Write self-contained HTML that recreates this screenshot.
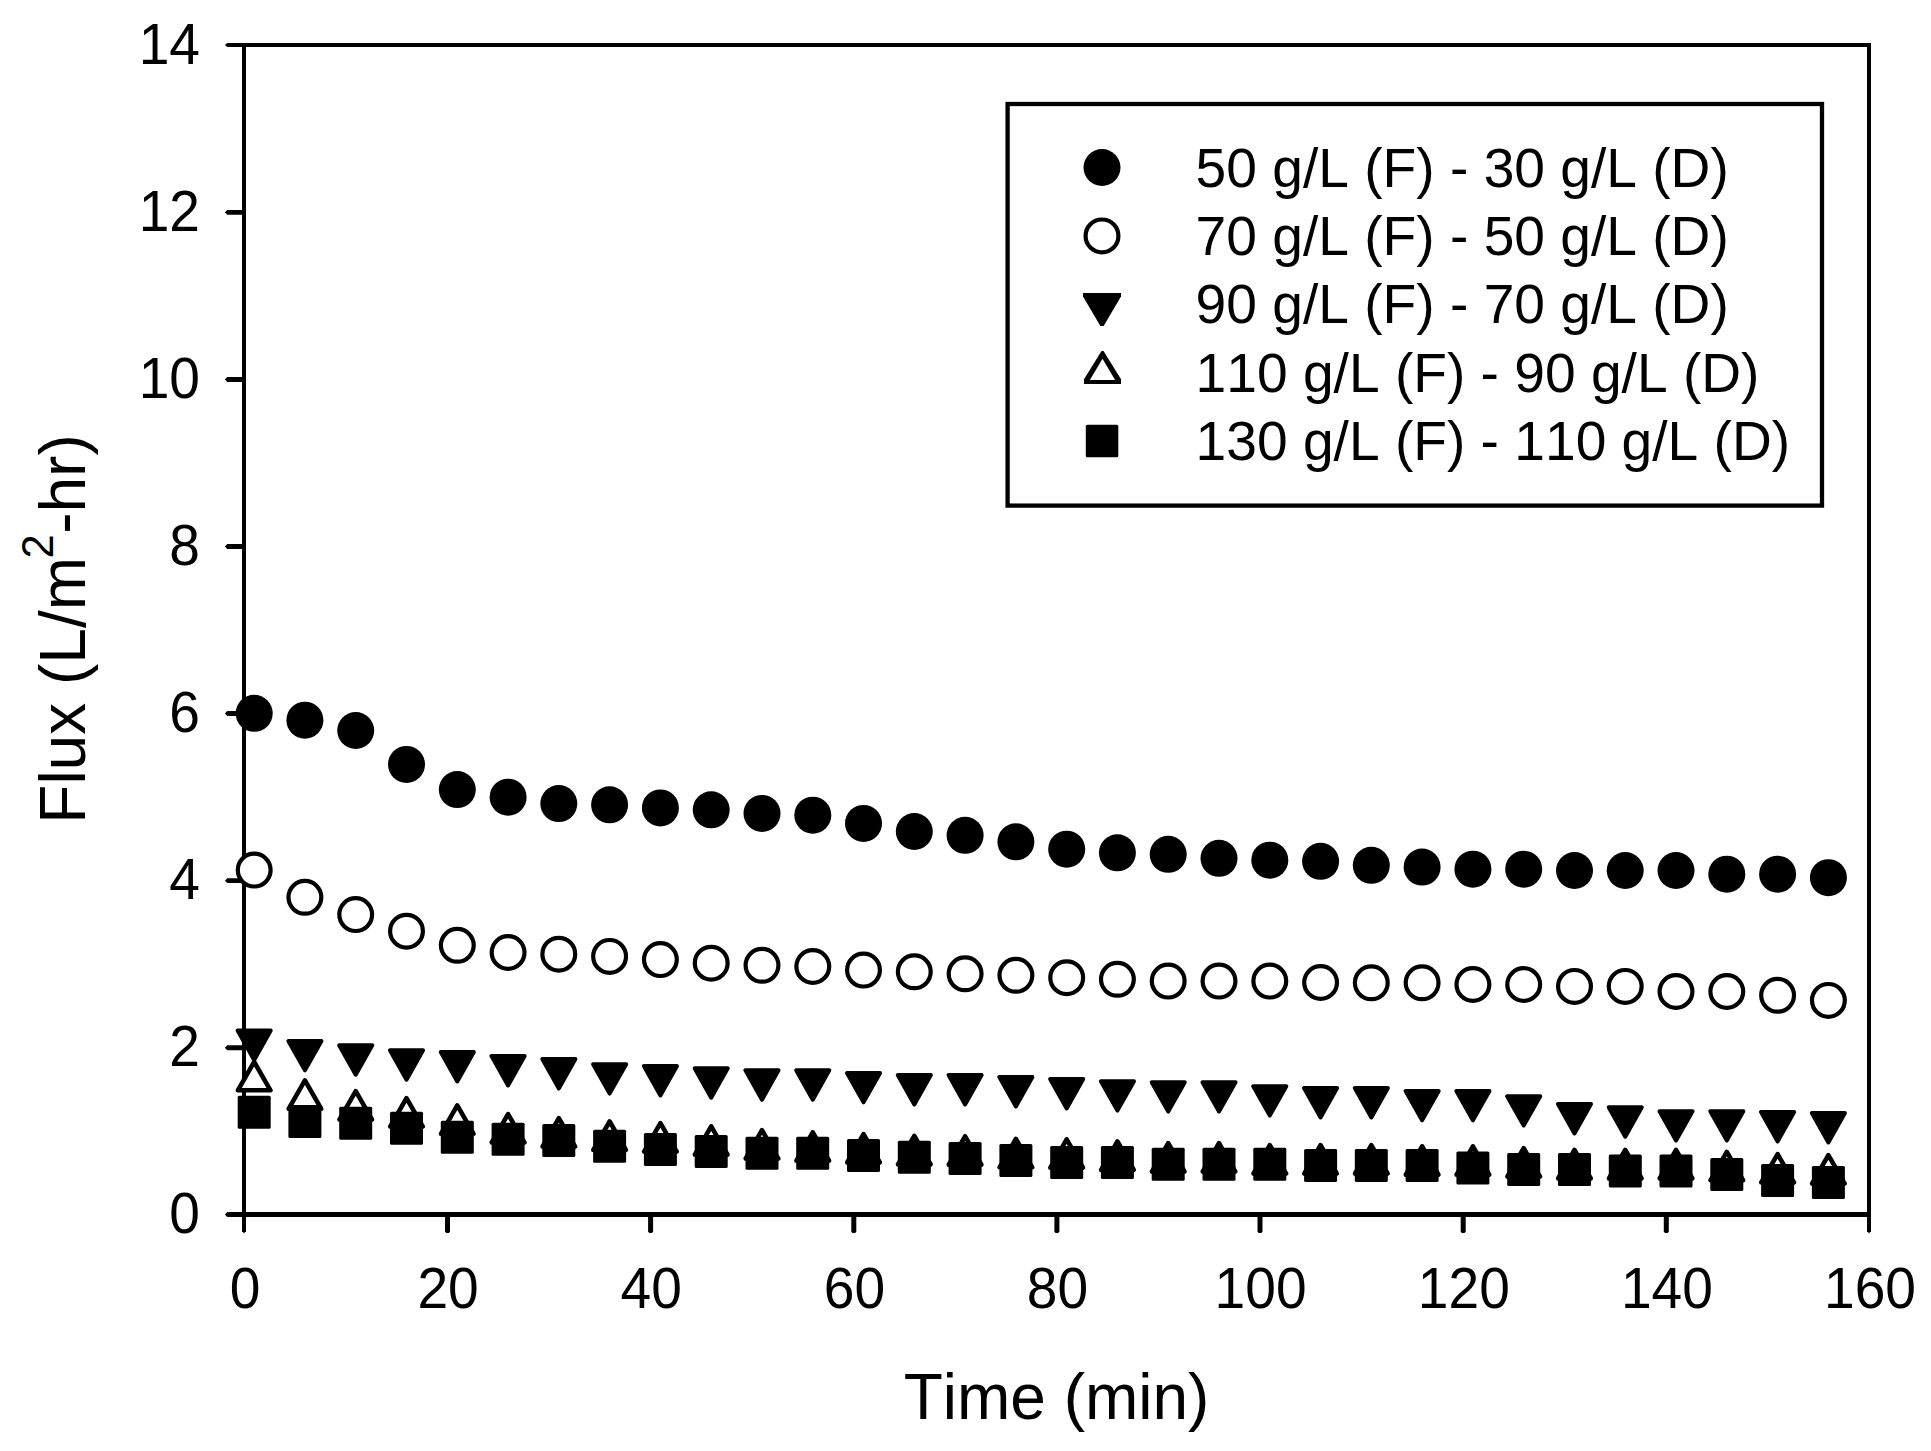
<!DOCTYPE html>
<html lang="en">
<head>
<meta charset="utf-8">
<title>Flux vs Time</title>
<style>
html,body{margin:0;padding:0;background:#fff;}
body{width:1931px;height:1451px;overflow:hidden;}
svg{display:block;}
text{font-family:"Liberation Sans",Arial,Helvetica,sans-serif;fill:#000;font-kerning:none;}
.t{font-size:55.15px;}
.ax{font-size:64.0px;}
.sup{font-size:43.5px;}
</style>
</head>
<body>
<svg width="1931" height="1451" viewBox="0 0 1931 1451">
<rect x="0" y="0" width="1931" height="1451" fill="#fff"/>

<g fill="#000" stroke="none">
<rect x="242" y="43" width="1629" height="4"/>
<rect x="242" y="1212" width="1629" height="5"/>
<rect x="242" y="43" width="4" height="1189"/>
<rect x="1867" y="43" width="4" height="1189"/>
<path d="M243.2 1232h1.6l-0.3 1.2h-1z M1868.2 1232h1.6l-0.3 1.2h-1z"/>
<path d="M244 43.0H227.3L224.9 45.0L227.3 47.0H244Z"/>
<path d="M244 1212.0H227.3L224.9 1214.5L227.3 1217.0H244Z"/>
<path d="M244 1045.3H227.3L224.9 1047.7L227.3 1050.2H244Z"/>
<path d="M244 878.2H227.3L224.9 880.7L227.3 883.1H244Z"/>
<path d="M244 711.1H227.3L224.9 713.6L227.3 716.0H244Z"/>
<path d="M244 544.1H227.3L224.9 546.5L227.3 549.0H244Z"/>
<path d="M244 377.0H227.3L224.9 379.4L227.3 381.9H244Z"/>
<path d="M244 209.9H227.3L224.9 212.4L227.3 214.8H244Z"/>
<path d="M445.0 1214H450.0V1231.8L448.8 1233.1H446.2L445.0 1231.8Z"/>
<path d="M648.1 1214H653.1V1231.8L651.9 1233.1H649.4L648.1 1231.8Z"/>
<path d="M851.3 1214H856.3V1231.8L855.1 1233.1H852.5L851.3 1231.8Z"/>
<path d="M1054.4 1214H1059.4V1231.8L1058.2 1233.1H1055.6L1054.4 1231.8Z"/>
<path d="M1257.5 1214H1262.5V1231.8L1261.3 1233.1H1258.7L1257.5 1231.8Z"/>
<path d="M1460.7 1214H1465.7V1231.8L1464.5 1233.1H1461.9L1460.7 1231.8Z"/>
<path d="M1663.8 1214H1668.8V1231.8L1667.6 1233.1H1665.0L1663.8 1231.8Z"/>
</g>
<g class="t">
<text class="t" transform="translate(200 1233.1) scale(1 1.025)" text-anchor="end">0</text>
<text class="t" transform="translate(200 1066.0) scale(1 1.025)" text-anchor="end">2</text>
<text class="t" transform="translate(200 899.0) scale(1 1.025)" text-anchor="end">4</text>
<text class="t" transform="translate(200 731.9) scale(1 1.025)" text-anchor="end">6</text>
<text class="t" transform="translate(200 564.8) scale(1 1.025)" text-anchor="end">8</text>
<text class="t" transform="translate(200 397.7) scale(1 1.025)" text-anchor="end">10</text>
<text class="t" transform="translate(200 230.7) scale(1 1.025)" text-anchor="end">12</text>
<text class="t" transform="translate(200 63.6) scale(1 1.025)" text-anchor="end">14</text>
<text class="t" transform="translate(245.0 1307.7) scale(1 1.025)" text-anchor="middle">0</text>
<text class="t" transform="translate(448.1 1307.7) scale(1 1.025)" text-anchor="middle">20</text>
<text class="t" transform="translate(651.2 1307.7) scale(1 1.025)" text-anchor="middle">40</text>
<text class="t" transform="translate(854.4 1307.7) scale(1 1.025)" text-anchor="middle">60</text>
<text class="t" transform="translate(1057.5 1307.7) scale(1 1.025)" text-anchor="middle">80</text>
<text class="t" transform="translate(1260.6 1307.7) scale(1 1.025)" text-anchor="middle">100</text>
<text class="t" transform="translate(1463.8 1307.7) scale(1 1.025)" text-anchor="middle">120</text>
<text class="t" transform="translate(1666.9 1307.7) scale(1 1.025)" text-anchor="middle">140</text>
<text class="t" transform="translate(1870.0 1307.7) scale(1 1.025)" text-anchor="middle">160</text>
</g>
<text class="ax" x="1056.5" y="1418.7" text-anchor="middle">Time (min)</text>
<text class="ax" transform="translate(85.1 629.0) rotate(-90)" text-anchor="middle">Flux (L/m<tspan class="sup" dy="-31.9" dx="-1.5">2</tspan><tspan dy="31.9" dx="0.5">-hr)</tspan></text>
<g id="s1">
<circle cx="254.2" cy="713.3" r="18.5" fill="#000"/>
<circle cx="304.9" cy="720.2" r="18.5" fill="#000"/>
<circle cx="355.7" cy="730.5" r="18.5" fill="#000"/>
<circle cx="406.5" cy="764.4" r="18.5" fill="#000"/>
<circle cx="457.3" cy="789.6" r="18.5" fill="#000"/>
<circle cx="508.1" cy="797.2" r="18.5" fill="#000"/>
<circle cx="558.8" cy="803.6" r="18.5" fill="#000"/>
<circle cx="609.6" cy="804.8" r="18.5" fill="#000"/>
<circle cx="660.4" cy="807.9" r="18.5" fill="#000"/>
<circle cx="711.2" cy="809.8" r="18.5" fill="#000"/>
<circle cx="762.0" cy="813.4" r="18.5" fill="#000"/>
<circle cx="812.8" cy="815.2" r="18.5" fill="#000"/>
<circle cx="863.5" cy="823.4" r="18.5" fill="#000"/>
<circle cx="914.3" cy="831.5" r="18.5" fill="#000"/>
<circle cx="965.1" cy="835.3" r="18.5" fill="#000"/>
<circle cx="1015.9" cy="841.8" r="18.5" fill="#000"/>
<circle cx="1066.7" cy="849.2" r="18.5" fill="#000"/>
<circle cx="1117.4" cy="852.8" r="18.5" fill="#000"/>
<circle cx="1168.2" cy="854.3" r="18.5" fill="#000"/>
<circle cx="1219.0" cy="858.3" r="18.5" fill="#000"/>
<circle cx="1269.8" cy="860.2" r="18.5" fill="#000"/>
<circle cx="1320.6" cy="861.3" r="18.5" fill="#000"/>
<circle cx="1371.3" cy="865.3" r="18.5" fill="#000"/>
<circle cx="1422.1" cy="867.1" r="18.5" fill="#000"/>
<circle cx="1472.9" cy="869.2" r="18.5" fill="#000"/>
<circle cx="1523.7" cy="869.2" r="18.5" fill="#000"/>
<circle cx="1574.5" cy="870.5" r="18.5" fill="#000"/>
<circle cx="1625.2" cy="870.5" r="18.5" fill="#000"/>
<circle cx="1676.0" cy="870.5" r="18.5" fill="#000"/>
<circle cx="1726.8" cy="874.2" r="18.5" fill="#000"/>
<circle cx="1777.6" cy="874.2" r="18.5" fill="#000"/>
<circle cx="1828.4" cy="877.7" r="18.5" fill="#000"/>
</g>
<g id="s2">
<circle cx="254.2" cy="870.1" r="16.40" fill="#fff" stroke="#000" stroke-width="4.2"/>
<circle cx="304.9" cy="897.3" r="16.40" fill="#fff" stroke="#000" stroke-width="4.2"/>
<circle cx="355.7" cy="914.6" r="16.40" fill="#fff" stroke="#000" stroke-width="4.2"/>
<circle cx="406.5" cy="931.2" r="16.40" fill="#fff" stroke="#000" stroke-width="4.2"/>
<circle cx="457.3" cy="945.3" r="16.40" fill="#fff" stroke="#000" stroke-width="4.2"/>
<circle cx="508.1" cy="952.5" r="16.40" fill="#fff" stroke="#000" stroke-width="4.2"/>
<circle cx="558.8" cy="954.2" r="16.40" fill="#fff" stroke="#000" stroke-width="4.2"/>
<circle cx="609.6" cy="956.4" r="16.40" fill="#fff" stroke="#000" stroke-width="4.2"/>
<circle cx="660.4" cy="959.6" r="16.40" fill="#fff" stroke="#000" stroke-width="4.2"/>
<circle cx="711.2" cy="963.2" r="16.40" fill="#fff" stroke="#000" stroke-width="4.2"/>
<circle cx="762.0" cy="965.3" r="16.40" fill="#fff" stroke="#000" stroke-width="4.2"/>
<circle cx="812.8" cy="966.5" r="16.40" fill="#fff" stroke="#000" stroke-width="4.2"/>
<circle cx="863.5" cy="970.1" r="16.40" fill="#fff" stroke="#000" stroke-width="4.2"/>
<circle cx="914.3" cy="971.8" r="16.40" fill="#fff" stroke="#000" stroke-width="4.2"/>
<circle cx="965.1" cy="973.8" r="16.40" fill="#fff" stroke="#000" stroke-width="4.2"/>
<circle cx="1015.9" cy="975.3" r="16.40" fill="#fff" stroke="#000" stroke-width="4.2"/>
<circle cx="1066.7" cy="977.7" r="16.40" fill="#fff" stroke="#000" stroke-width="4.2"/>
<circle cx="1117.4" cy="979.3" r="16.40" fill="#fff" stroke="#000" stroke-width="4.2"/>
<circle cx="1168.2" cy="981.1" r="16.40" fill="#fff" stroke="#000" stroke-width="4.2"/>
<circle cx="1219.0" cy="981.1" r="16.40" fill="#fff" stroke="#000" stroke-width="4.2"/>
<circle cx="1269.8" cy="981.1" r="16.40" fill="#fff" stroke="#000" stroke-width="4.2"/>
<circle cx="1320.6" cy="982.5" r="16.40" fill="#fff" stroke="#000" stroke-width="4.2"/>
<circle cx="1371.3" cy="982.8" r="16.40" fill="#fff" stroke="#000" stroke-width="4.2"/>
<circle cx="1422.1" cy="982.8" r="16.40" fill="#fff" stroke="#000" stroke-width="4.2"/>
<circle cx="1472.9" cy="984.5" r="16.40" fill="#fff" stroke="#000" stroke-width="4.2"/>
<circle cx="1523.7" cy="984.5" r="16.40" fill="#fff" stroke="#000" stroke-width="4.2"/>
<circle cx="1574.5" cy="986.4" r="16.40" fill="#fff" stroke="#000" stroke-width="4.2"/>
<circle cx="1625.2" cy="986.4" r="16.40" fill="#fff" stroke="#000" stroke-width="4.2"/>
<circle cx="1676.0" cy="991.5" r="16.40" fill="#fff" stroke="#000" stroke-width="4.2"/>
<circle cx="1726.8" cy="991.5" r="16.40" fill="#fff" stroke="#000" stroke-width="4.2"/>
<circle cx="1777.6" cy="995.3" r="16.40" fill="#fff" stroke="#000" stroke-width="4.2"/>
<circle cx="1828.4" cy="1000.4" r="16.40" fill="#fff" stroke="#000" stroke-width="4.2"/>
</g>
<g id="s3">
<path d="M237.61 1030.5H270.71L254.16 1059.9Z" fill="#000" stroke="#000" stroke-width="4" stroke-linejoin="round"/>
<path d="M288.39 1040.9H321.49L304.94 1070.3Z" fill="#000" stroke="#000" stroke-width="4" stroke-linejoin="round"/>
<path d="M339.17 1045.3H372.27L355.72 1074.7Z" fill="#000" stroke="#000" stroke-width="4" stroke-linejoin="round"/>
<path d="M389.95 1050.3H423.05L406.50 1079.7Z" fill="#000" stroke="#000" stroke-width="4" stroke-linejoin="round"/>
<path d="M440.73 1052.0H473.83L457.28 1081.4Z" fill="#000" stroke="#000" stroke-width="4" stroke-linejoin="round"/>
<path d="M491.51 1056.1H524.61L508.06 1085.5Z" fill="#000" stroke="#000" stroke-width="4" stroke-linejoin="round"/>
<path d="M542.29 1059.0H575.39L558.84 1088.4Z" fill="#000" stroke="#000" stroke-width="4" stroke-linejoin="round"/>
<path d="M593.08 1064.2H626.17L609.62 1093.6Z" fill="#000" stroke="#000" stroke-width="4" stroke-linejoin="round"/>
<path d="M643.86 1066.1H676.96L660.41 1095.5Z" fill="#000" stroke="#000" stroke-width="4" stroke-linejoin="round"/>
<path d="M694.64 1068.3H727.74L711.19 1097.7Z" fill="#000" stroke="#000" stroke-width="4" stroke-linejoin="round"/>
<path d="M745.42 1070.3H778.52L761.97 1099.7Z" fill="#000" stroke="#000" stroke-width="4" stroke-linejoin="round"/>
<path d="M796.20 1070.3H829.30L812.75 1099.7Z" fill="#000" stroke="#000" stroke-width="4" stroke-linejoin="round"/>
<path d="M846.98 1072.9H880.08L863.53 1102.3Z" fill="#000" stroke="#000" stroke-width="4" stroke-linejoin="round"/>
<path d="M897.76 1075.1H930.86L914.31 1104.5Z" fill="#000" stroke="#000" stroke-width="4" stroke-linejoin="round"/>
<path d="M948.54 1075.1H981.64L965.09 1104.5Z" fill="#000" stroke="#000" stroke-width="4" stroke-linejoin="round"/>
<path d="M999.33 1077.0H1032.42L1015.88 1106.4Z" fill="#000" stroke="#000" stroke-width="4" stroke-linejoin="round"/>
<path d="M1050.11 1079.0H1083.21L1066.66 1108.4Z" fill="#000" stroke="#000" stroke-width="4" stroke-linejoin="round"/>
<path d="M1100.89 1081.2H1133.99L1117.44 1110.6Z" fill="#000" stroke="#000" stroke-width="4" stroke-linejoin="round"/>
<path d="M1151.67 1082.2H1184.77L1168.22 1111.6Z" fill="#000" stroke="#000" stroke-width="4" stroke-linejoin="round"/>
<path d="M1202.45 1082.2H1235.55L1219.00 1111.6Z" fill="#000" stroke="#000" stroke-width="4" stroke-linejoin="round"/>
<path d="M1253.23 1086.2H1286.33L1269.78 1115.6Z" fill="#000" stroke="#000" stroke-width="4" stroke-linejoin="round"/>
<path d="M1304.01 1088.1H1337.11L1320.56 1117.5Z" fill="#000" stroke="#000" stroke-width="4" stroke-linejoin="round"/>
<path d="M1354.79 1088.1H1387.89L1371.34 1117.5Z" fill="#000" stroke="#000" stroke-width="4" stroke-linejoin="round"/>
<path d="M1405.58 1090.9H1438.67L1422.12 1120.3Z" fill="#000" stroke="#000" stroke-width="4" stroke-linejoin="round"/>
<path d="M1456.36 1090.9H1489.46L1472.91 1120.3Z" fill="#000" stroke="#000" stroke-width="4" stroke-linejoin="round"/>
<path d="M1507.14 1096.2H1540.24L1523.69 1125.6Z" fill="#000" stroke="#000" stroke-width="4" stroke-linejoin="round"/>
<path d="M1557.92 1104.0H1591.02L1574.47 1133.4Z" fill="#000" stroke="#000" stroke-width="4" stroke-linejoin="round"/>
<path d="M1608.70 1107.3H1641.80L1625.25 1136.7Z" fill="#000" stroke="#000" stroke-width="4" stroke-linejoin="round"/>
<path d="M1659.48 1111.2H1692.58L1676.03 1140.6Z" fill="#000" stroke="#000" stroke-width="4" stroke-linejoin="round"/>
<path d="M1710.26 1111.2H1743.36L1726.81 1140.6Z" fill="#000" stroke="#000" stroke-width="4" stroke-linejoin="round"/>
<path d="M1761.04 1112.0H1794.14L1777.59 1141.4Z" fill="#000" stroke="#000" stroke-width="4" stroke-linejoin="round"/>
<path d="M1811.83 1113.1H1844.92L1828.38 1142.5Z" fill="#000" stroke="#000" stroke-width="4" stroke-linejoin="round"/>
</g>
<g id="s4">
<path d="M254.16 1061.9L270.46 1090.3H237.86Z" fill="#fff" stroke="#000" stroke-width="4.6" stroke-linejoin="round"/>
<path d="M304.94 1080.4L321.24 1108.8H288.64Z" fill="#fff" stroke="#000" stroke-width="4.6" stroke-linejoin="round"/>
<path d="M355.72 1091.2L372.02 1119.6H339.42Z" fill="#fff" stroke="#000" stroke-width="4.6" stroke-linejoin="round"/>
<path d="M406.50 1098.2L422.80 1126.6H390.20Z" fill="#fff" stroke="#000" stroke-width="4.6" stroke-linejoin="round"/>
<path d="M457.28 1105.4L473.58 1133.8H440.98Z" fill="#fff" stroke="#000" stroke-width="4.6" stroke-linejoin="round"/>
<path d="M508.06 1114.1L524.36 1142.5H491.76Z" fill="#fff" stroke="#000" stroke-width="4.6" stroke-linejoin="round"/>
<path d="M558.84 1118.2L575.14 1146.6H542.54Z" fill="#fff" stroke="#000" stroke-width="4.6" stroke-linejoin="round"/>
<path d="M609.62 1121.5L625.92 1149.9H593.33Z" fill="#fff" stroke="#000" stroke-width="4.6" stroke-linejoin="round"/>
<path d="M660.41 1123.2L676.71 1151.6H644.11Z" fill="#fff" stroke="#000" stroke-width="4.6" stroke-linejoin="round"/>
<path d="M711.19 1126.3L727.49 1154.7H694.89Z" fill="#fff" stroke="#000" stroke-width="4.6" stroke-linejoin="round"/>
<path d="M761.97 1130.2L778.27 1158.6H745.67Z" fill="#fff" stroke="#000" stroke-width="4.6" stroke-linejoin="round"/>
<path d="M812.75 1132.3L829.05 1160.7H796.45Z" fill="#fff" stroke="#000" stroke-width="4.6" stroke-linejoin="round"/>
<path d="M863.53 1134.1L879.83 1162.5H847.23Z" fill="#fff" stroke="#000" stroke-width="4.6" stroke-linejoin="round"/>
<path d="M914.31 1136.0L930.61 1164.4H898.01Z" fill="#fff" stroke="#000" stroke-width="4.6" stroke-linejoin="round"/>
<path d="M965.09 1136.3L981.39 1164.7H948.79Z" fill="#fff" stroke="#000" stroke-width="4.6" stroke-linejoin="round"/>
<path d="M1015.88 1138.9L1032.17 1167.3H999.58Z" fill="#fff" stroke="#000" stroke-width="4.6" stroke-linejoin="round"/>
<path d="M1066.66 1139.3L1082.96 1167.7H1050.36Z" fill="#fff" stroke="#000" stroke-width="4.6" stroke-linejoin="round"/>
<path d="M1117.44 1141.5L1133.74 1169.9H1101.14Z" fill="#fff" stroke="#000" stroke-width="4.6" stroke-linejoin="round"/>
<path d="M1168.22 1143.2L1184.52 1171.6H1151.92Z" fill="#fff" stroke="#000" stroke-width="4.6" stroke-linejoin="round"/>
<path d="M1219.00 1143.2L1235.30 1171.6H1202.70Z" fill="#fff" stroke="#000" stroke-width="4.6" stroke-linejoin="round"/>
<path d="M1269.78 1145.2L1286.08 1173.6H1253.48Z" fill="#fff" stroke="#000" stroke-width="4.6" stroke-linejoin="round"/>
<path d="M1320.56 1145.2L1336.86 1173.6H1304.26Z" fill="#fff" stroke="#000" stroke-width="4.6" stroke-linejoin="round"/>
<path d="M1371.34 1145.2L1387.64 1173.6H1355.04Z" fill="#fff" stroke="#000" stroke-width="4.6" stroke-linejoin="round"/>
<path d="M1422.12 1146.3L1438.42 1174.7H1405.83Z" fill="#fff" stroke="#000" stroke-width="4.6" stroke-linejoin="round"/>
<path d="M1472.91 1146.3L1489.21 1174.7H1456.61Z" fill="#fff" stroke="#000" stroke-width="4.6" stroke-linejoin="round"/>
<path d="M1523.69 1148.2L1539.99 1176.6H1507.39Z" fill="#fff" stroke="#000" stroke-width="4.6" stroke-linejoin="round"/>
<path d="M1574.47 1150.0L1590.77 1178.4H1558.17Z" fill="#fff" stroke="#000" stroke-width="4.6" stroke-linejoin="round"/>
<path d="M1625.25 1150.0L1641.55 1178.4H1608.95Z" fill="#fff" stroke="#000" stroke-width="4.6" stroke-linejoin="round"/>
<path d="M1676.03 1150.0L1692.33 1178.4H1659.73Z" fill="#fff" stroke="#000" stroke-width="4.6" stroke-linejoin="round"/>
<path d="M1726.81 1151.9L1743.11 1180.3H1710.51Z" fill="#fff" stroke="#000" stroke-width="4.6" stroke-linejoin="round"/>
<path d="M1777.59 1154.1L1793.89 1182.5H1761.29Z" fill="#fff" stroke="#000" stroke-width="4.6" stroke-linejoin="round"/>
<path d="M1828.38 1155.2L1844.67 1183.6H1812.08Z" fill="#fff" stroke="#000" stroke-width="4.6" stroke-linejoin="round"/>
</g>
<g id="s5">
<rect x="237.7" y="1095.8" width="33.0" height="33.0" rx="1.5" fill="#000"/>
<rect x="288.4" y="1105.0" width="33.0" height="33.0" rx="1.5" fill="#000"/>
<rect x="339.2" y="1106.8" width="33.0" height="33.0" rx="1.5" fill="#000"/>
<rect x="390.0" y="1111.8" width="33.0" height="33.0" rx="1.5" fill="#000"/>
<rect x="440.8" y="1120.8" width="33.0" height="33.0" rx="1.5" fill="#000"/>
<rect x="491.6" y="1122.8" width="33.0" height="33.0" rx="1.5" fill="#000"/>
<rect x="542.3" y="1123.9" width="33.0" height="33.0" rx="1.5" fill="#000"/>
<rect x="593.1" y="1129.8" width="33.0" height="33.0" rx="1.5" fill="#000"/>
<rect x="643.9" y="1133.1" width="33.0" height="33.0" rx="1.5" fill="#000"/>
<rect x="694.7" y="1135.0" width="33.0" height="33.0" rx="1.5" fill="#000"/>
<rect x="745.5" y="1136.7" width="33.0" height="33.0" rx="1.5" fill="#000"/>
<rect x="796.2" y="1136.7" width="33.0" height="33.0" rx="1.5" fill="#000"/>
<rect x="847.0" y="1139.0" width="33.0" height="33.0" rx="1.5" fill="#000"/>
<rect x="897.8" y="1140.8" width="33.0" height="33.0" rx="1.5" fill="#000"/>
<rect x="948.6" y="1141.9" width="33.0" height="33.0" rx="1.5" fill="#000"/>
<rect x="999.4" y="1143.9" width="33.0" height="33.0" rx="1.5" fill="#000"/>
<rect x="1050.2" y="1145.9" width="33.0" height="33.0" rx="1.5" fill="#000"/>
<rect x="1100.9" y="1145.9" width="33.0" height="33.0" rx="1.5" fill="#000"/>
<rect x="1151.7" y="1147.8" width="33.0" height="33.0" rx="1.5" fill="#000"/>
<rect x="1202.5" y="1147.8" width="33.0" height="33.0" rx="1.5" fill="#000"/>
<rect x="1253.3" y="1147.8" width="33.0" height="33.0" rx="1.5" fill="#000"/>
<rect x="1304.1" y="1149.0" width="33.0" height="33.0" rx="1.5" fill="#000"/>
<rect x="1354.8" y="1149.0" width="33.0" height="33.0" rx="1.5" fill="#000"/>
<rect x="1405.6" y="1149.0" width="33.0" height="33.0" rx="1.5" fill="#000"/>
<rect x="1456.4" y="1151.4" width="33.0" height="33.0" rx="1.5" fill="#000"/>
<rect x="1507.2" y="1152.9" width="33.0" height="33.0" rx="1.5" fill="#000"/>
<rect x="1558.0" y="1152.9" width="33.0" height="33.0" rx="1.5" fill="#000"/>
<rect x="1608.8" y="1154.6" width="33.0" height="33.0" rx="1.5" fill="#000"/>
<rect x="1659.5" y="1154.6" width="33.0" height="33.0" rx="1.5" fill="#000"/>
<rect x="1710.3" y="1157.9" width="33.0" height="33.0" rx="1.5" fill="#000"/>
<rect x="1761.1" y="1164.0" width="33.0" height="33.0" rx="1.5" fill="#000"/>
<rect x="1811.9" y="1166.0" width="33.0" height="33.0" rx="1.5" fill="#000"/>
</g>
<rect x="1007.6" y="104.0" width="814.4" height="401.6" fill="#fff" stroke="#000" stroke-width="4.3"/>
<g id="legend">
<circle cx="1102.0" cy="167.5" r="18.5" fill="#000"/>
<circle cx="1102.0" cy="235.9" r="16.40" fill="#fff" stroke="#000" stroke-width="4.2"/>
<path d="M1083.0 293.0H1121.0V296.6L1103.6 326.0H1100.4L1083.0 296.6Z" fill="#000"/>
<path d="M1101.5 350.9H1103.5L1121.0 379.2V383.9H1084.0V379.2Z" fill="#000"/><path d="M1102.5 358.7L1115.1 380.1H1089.9Z" fill="#fff"/>
<rect x="1085.8" y="424.8" width="32.5" height="32.5" rx="1.5" fill="#000"/>
<text class="t" x="1195.6" y="186.6">50 g/L (F) - 30 g/L (D)</text>
<text class="t" x="1195.6" y="254.8">70 g/L (F) - 50 g/L (D)</text>
<text class="t" x="1195.6" y="323.3">90 g/L (F) - 70 g/L (D)</text>
<text class="t" x="1195.6" y="391.6">110 g/L (F) - 90 g/L (D)</text>
<text class="t" x="1195.6" y="460.0">130 g/L (F) - 110 g/L (D)</text>
</g>
</svg>
</body>
</html>
